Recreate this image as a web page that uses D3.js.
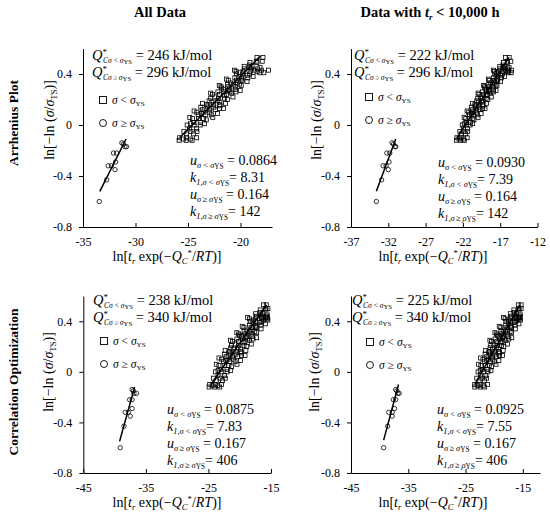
<!DOCTYPE html>
<meta charset="utf-8">
<style>
body { margin: 0; background: #fff; }
text { font-family: "Liberation Serif", "DejaVu Serif", serif; fill: #000; }
.tick text { font-family: "Liberation Serif", serif; font-size: 12px; }
.tick line, .domain { stroke: #000; stroke-width: 1; }
</style>
<body>
<script src="https://cdn.jsdelivr.net/npm/d3@7/dist/d3.min.js"></script>
<script>
// y = ln[-ln(sigma/sigma_TS)], same stress levels in every panel (sigma < sigma_YS)
var sqY = [-0.12,-0.12,-0.12,-0.11,-0.11,-0.10,-0.10,-0.10,-0.07,-0.07,-0.05,-0.05,-0.05,-0.03,-0.03,
    0,0,0,0.02,0.02,0.05,0.05,0.05,0.08,0.08,0.08,0.10,0.10,0.10,0.12,0.12,0.12,0.14,0.14,0.14,
    0.16,0.16,0.16,0.18,0.18,0.21,0.21,0.21,0.24,0.24,0.24,0.26,0.26,0.26,0.26,0.28,0.28,0.28,
    0.30,0.30,0.30,0.32,0.32,0.32,0.35,0.35,0.35,0.37,0.37,0.37,0.40,0.40,0.40,0.42,0.42,0.42,0.42,
    0.44,0.44,0.44,0.46,0.46,0.49,0.49,0.53,0.53,
    0.01,0.01,0.04,0.06,0.06,0.09,0.09,0.11,0.13,0.13,0.15,0.15,0.17,0.17,0.19,0.19,0.20,0.22,0.22,0.23,
    0.25,0.25,0.27,0.27,0.29,0.31,0.31,0.33,0.33,0.34,0.36,0.36,0.38,0.38,0.39,0.41,0.41,0.41,
    0.43,0.43,0.43,0.43,0.45,0.45,0.47,0.50,0.50];

// x = ln[tr exp(-Qc*/RT)] for each panel
var sqX_arrAll = [-25.85,-25.18,-24.61,-25.44,-24.78,-25.80,-25.13,-24.18,-25.15,-24.49,-25.39,-24.72,-24.15,-24.86,-24.20,
    -25.08,-24.41,-23.84,-24.46,-23.79,-24.57,-24.00,-23.52,-24.02,-23.35,-22.78,-24.16,-23.50,-22.92,-23.64,-22.97,-22.40,-23.78,-23.11,-22.54,
    -23.25,-22.58,-22.01,-22.73,-21.96,-22.84,-22.08,-21.51,-22.67,-22.01,-21.34,-22.15,-21.58,-21.00,-20.43,-21.62,-21.05,-20.48,
    -21.86,-21.19,-20.52,-21.24,-20.66,-20.09,-21.16,-20.40,-19.83,-20.54,-19.87,-19.30,-20.37,-19.80,-19.13,-20.42,-19.75,-19.08,-18.42,
    -19.61,-18.94,-18.37,-19.65,-18.89,-19.10,-18.43,-18.43,-17.86,
    -23.43,-24.77,-23.26,-24.83,-22.64,-22.19,-23.71,-24.42,-21.99,-21.61,-23.18,-21.94,-23.61,-21.42,-22.22,-22.99,-21.25,-22.44,-20.72,-21.55,
    -22.84,-20.84,-21.17,-20.03,-21.79,-19.93,-22.02,-20.35,-20.93,-19.38,-21.33,-19.90,-20.14,-18.80,-19.35,-20.06,-18.16,-17.78,
    -20.58,-18.68,-18.01,-17.34,-19.10,-18.15,-19.15,-18.50,-17.93];
var sqX_arr10k = [-22.86,-22.29,-21.81,-22.51,-21.94,-22.80,-22.24,-21.43,-22.23,-21.66,-22.41,-21.85,-21.36,-21.94,-21.37,
    -22.09,-21.53,-21.04,-21.55,-20.99,-21.62,-21.14,-20.74,-21.12,-20.56,-20.07,-21.23,-20.66,-20.18,-20.76,-20.20,-19.71,-20.87,-20.30,-19.82,
    -20.39,-19.83,-19.35,-19.93,-19.29,-20.01,-19.36,-18.88,-19.84,-19.27,-18.71,-19.36,-18.88,-18.40,-17.91,-18.90,-18.42,-17.93,
    -19.09,-18.52,-17.96,-18.54,-18.06,-17.58,-18.46,-17.81,-17.33,-17.90,-17.34,-16.85,-17.73,-17.25,-16.69,-17.76,-17.19,-16.63,-16.06,
    -17.05,-16.49,-16.00,-17.06,-16.42,-16.57,-16.01,-16.30,-15.80,
    -20.69,-21.82,-20.52,-21.83,-19.97,-19.56,-20.85,-21.44,-19.36,-19.04,-20.35,-19.30,-20.69,-18.83,-19.50,-20.14,-18.66,-19.65,-18.20,-18.90,
    -19.97,-18.27,-18.53,-17.56,-19.03,-17.44,-19.22,-17.79,-18.27,-16.95,-18.58,-17.37,-17.55,-16.42,-16.88,-17.46,-15.85,-15.53,
    -17.89,-16.27,-15.90,-15.50,-16.62,-15.81,-16.63,-16.06,-15.58];
var sqX_optAll = [-24.90,-24.00,-23.20,-24.40,-23.50,-24.80,-23.90,-22.90,-23.74,-22.74,-24.18,-23.17,-22.31,-23.46,-22.45,
    -23.89,-22.88,-22.02,-23.02,-22.02,-23.32,-22.46,-21.74,-22.60,-21.60,-20.74,-22.89,-21.88,-21.02,-22.17,-21.16,-20.30,-22.46,-21.46,-20.60,
    -21.74,-20.74,-19.88,-21.03,-19.88,-21.32,-20.17,-19.31,-21.17,-20.17,-19.17,-20.45,-19.59,-18.73,-17.87,-19.74,-18.88,-18.02,
    -20.17,-19.17,-18.16,-19.31,-18.45,-17.59,-19.32,-18.17,-17.31,-18.45,-17.45,-16.59,-18.31,-17.45,-16.45,-18.45,-17.45,-16.44,-15.60,
    -17.31,-16.31,-15.70,-17.45,-16.30,-16.73,-15.80,-16.20,-15.75,
    -21.45,-23.46,-21.31,-23.74,-20.44,-19.87,-22.17,-23.32,-19.73,-19.16,-21.60,-19.74,-22.32,-19.02,-20.31,-21.45,-18.88,-20.74,-18.15,-19.45,
    -21.47,-18.45,-19.02,-17.30,-20.02,-17.31,-20.46,-18.02,-18.88,-16.59,-19.60,-17.45,-17.88,-15.87,-16.73,-17.88,-16.20,-15.50,
    -18.74,-15.87,-15.60,-16.50,-16.60,-15.60,-16.74,-15.88,-15.50];
var sqX_opt10k = [-23.39,-22.46,-21.67,-22.87,-21.94,-23.40,-22.47,-21.15,-22.63,-21.71,-23.04,-22.12,-21.32,-22.40,-21.47,
    -22.81,-21.89,-21.09,-22.03,-21.11,-22.32,-21.53,-20.87,-21.68,-20.75,-19.96,-21.96,-21.03,-20.24,-21.31,-20.39,-19.59,-21.59,-20.66,-19.87,
    -20.94,-20.02,-19.22,-20.30,-19.24,-20.59,-19.53,-18.74,-20.47,-19.55,-18.62,-19.83,-19.03,-18.24,-17.44,-19.18,-18.39,-17.59,
    -19.59,-18.66,-17.74,-18.81,-18.02,-17.22,-18.84,-17.78,-16.99,-18.06,-17.13,-16.34,-17.94,-17.15,-16.22,-18.09,-17.16,-16.24,-15.60,
    -17.05,-16.12,-15.60,-17.19,-16.14,-16.56,-15.63,-15.79,-15.30,
    -20.57,-22.43,-20.46,-22.72,-19.68,-19.18,-21.29,-22.37,-19.07,-18.55,-20.81,-19.09,-21.49,-18.44,-19.65,-20.71,-18.33,-20.06,-17.68,-18.88,
    -20.75,-17.97,-18.52,-16.93,-19.46,-16.96,-19.87,-17.63,-18.43,-16.31,-19.11,-17.12,-17.53,-15.68,-16.49,-17.56,-16.00,-15.40,
    -18.37,-15.72,-15.50,-16.20,-16.40,-15.40,-16.54,-15.77,-15.30];

// sigma >= sigma_YS
var ciY = [-0.60,-0.43,-0.32,-0.32,-0.35,-0.29,-0.22,-0.22,-0.14,-0.17,-0.17,-0.15];
var ciX_arrAll = [-33.45,-32.75,-32.60,-32.30,-31.95,-31.90,-32.10,-31.80,-31.30,-31.00,-30.85,-31.15];
var ciX_arr10k = [-33.60,-32.90,-32.70,-32.30,-32.00,-31.90,-32.20,-31.80,-31.50,-31.10,-31.00,-31.30];
var ciX_optAll = [-39.10,-38.50,-38.30,-37.80,-37.50,-37.20,-37.60,-37.20,-37.20,-36.50,-36.90,-37.00];
var ciX_opt10k = [-39.30,-38.60,-38.40,-37.80,-37.80,-37.40,-37.60,-37.20,-37.20,-36.60,-36.80,-37.00];

// fitted lines, end points [x, y]
var fitSq = [[[-25.8,-0.10],[-18.1,0.54]], [[-22.8,-0.10],[-15.8,0.53]], [[-24.6,-0.10],[-15.7,0.53]], [[-23.4,-0.10],[-15.5,0.53]]];
var fitCi = [[[-33.4,-0.52],[-30.9,-0.11]], [[-33.6,-0.52],[-31.0,-0.11]], [[-39.2,-0.55],[-36.8,-0.12]], [[-39.3,-0.54],[-36.7,-0.10]]];

var xTicks = [[-35,-30,-25,-20], [-37,-32,-27,-22,-17,-12], [-45,-35,-25,-15], [-45,-35,-25,-15]];
var xDomains = [[-35,-17], [-37,-12], [-45,-15], [-45,-12]];
var yTicks = [-0.8,-0.4,0,0.4];

var qLow = ["246","222","238","225"];
var qHigh = ["296","296","340","340"];
var uLow = ["0.0864","0.0930","0.0875","0.0925"];
var kLow = ["8.31","7.39","7.83","7.55"];
var uHigh = ["0.164","0.164","0.167","0.167"];
var kHigh = ["142","142","406","406"];

// layout of the four panels (pixels)
var boxes = [
    {x0:83, x1:272, y0:227, y1:48.5, qx:92, qy:60, lx:103, ly:100, px:190, py:[165,182,199,216], xlx:167, xly:261, ylx:50, yly:120, hyS:"σ"},
    {x0:351, x1:537.5, y0:227, y1:48.5, qx:354, qy:60, lx:369, ly:97, px:438, py:[167,184,201,218], xlx:433, xly:261, ylx:317, yly:120, hyS:"ρ"},
    {x0:83.3, x1:271, y0:473, y1:296, qx:93, qy:305, lx:104, ly:341, px:167, py:[414,431,448,465], xlx:167, xly:507, ylx:49, yly:372, hyS:"σ"},
    {x0:351, x1:540, y0:473, y1:296, qx:352, qy:305, lx:370, ly:342, px:437, py:[414,431,448,465], xlx:433, xly:507, ylx:315, yly:372, hyS:"ρ"}
];
var sqXs = [sqX_arrAll, sqX_arr10k, sqX_optAll, sqX_opt10k];
var ciXs = [ciX_arrAll, ciX_arr10k, ciX_optAll, ciX_opt10k];

var svg = d3.select("body").append("svg").attr("width", 550).attr("height", 516);

// text with sub/superscripts: parts = [text, kind, dx]
function rich(sel, parts, f, s1, s2) {
    s1 = s1 || 0.62; s2 = s2 || 0.55;
    var t = sel.append("text").style("font-size", f + "px");
    var cur = 0;
    parts.forEach(function (p) {
        var k = p[1] || "n", off = 0, fs = f;
        if (k.indexOf("1") >= 0) { off = 0.2 * f; fs = s1 * f; }
        if (k.indexOf("2") >= 0) { off = 0.3 * f; fs = s2 * f; }
        if (k.indexOf("^") >= 0) { off = -0.36 * f; fs = 0.62 * f; }
        var s = t.append("tspan").text(p[0]).attr("dy", off - cur).style("font-size", fs + "px");
        if (k.indexOf("i") >= 0) s.style("font-style", "italic");
        if (p[2]) s.attr("dx", p[2]);
        cur = off;
    });
    return t;
}

var fmt = function (d) { return String(d); };

boxes.forEach(function (b, i) {
    var x = d3.scaleLinear().domain(xDomains[i]).range([b.x0, b.x1]);
    var y = d3.scaleLinear().domain([-0.8, 0.6]).range([b.y0, b.y1]);
    var g = svg.append("g");

    g.append("g").attr("transform", "translate(0," + b.y0 + ")")
        .call(d3.axisBottom(x).tickValues(xTicks[i]).tickSizeInner(-4).tickSizeOuter(0).tickPadding(10).tickFormat(fmt));
    g.append("g").attr("transform", "translate(" + b.x0 + ",0)")
        .call(d3.axisLeft(y).tickValues(yTicks).tickSizeInner(4).tickSizeOuter(0).tickPadding(7).tickFormat(fmt));

    var sq = sqY.map(function (v, j) { return [sqXs[i][j], v]; });
    var ci = ciY.map(function (v, j) { return [ciXs[i][j], v]; });

    g.selectAll("rect.pt").data(sq).enter().append("rect").attr("class", "pt")
        .attr("x", function (d) { return x(d[0]) - 2; })
        .attr("y", function (d) { return y(d[1]) - 2; })
        .attr("width", 4).attr("height", 4)
        .attr("fill", "none").attr("stroke", "#000").attr("stroke-width", 0.8);
    g.selectAll("circle.pt").data(ci).enter().append("circle").attr("class", "pt")
        .attr("cx", function (d) { return x(d[0]); })
        .attr("cy", function (d) { return y(d[1]); })
        .attr("r", 2.2)
        .attr("fill", "none").attr("stroke", "#000").attr("stroke-width", 0.8);

    var line = d3.line().x(function (d) { return x(d[0]); }).y(function (d) { return y(d[1]); });
    [fitSq[i], fitCi[i]].forEach(function (f) {
        g.append("path").attr("d", line(f)).attr("fill", "none").attr("stroke", "#000").attr("stroke-width", 1.5);
    });

    // activation energies
    rich(g, [["Q","i"],["*","^"],["Cσ\u2009<\u2009σ","1i",-4],["YS","2"],[" = " + qLow[i] + " kJ/mol"]], 14.5, 0.52, 0.46)
        .attr("x", b.qx).attr("y", b.qy);
    rich(g, [["Q","i"],["*","^"],["Cσ\u2009≥\u2009σ","1i",-4],["YS","2"],[" = " + qHigh[i] + " kJ/mol"]], 14.5, 0.52, 0.46)
        .attr("x", b.qx).attr("y", b.qy + 17);

    // legend
    g.append("rect").attr("x", b.lx - 3.5).attr("y", b.ly - 3.5).attr("width", 7).attr("height", 7)
        .attr("fill", "none").attr("stroke", "#000").attr("stroke-width", 0.9);
    g.append("circle").attr("cx", b.lx).attr("cy", b.ly + 23).attr("r", 3.5)
        .attr("fill", "none").attr("stroke", "#000").attr("stroke-width", 0.9);
    rich(g, [["σ","i"],[" < "],["σ","i"],["YS","1"]], 11.5).attr("x", b.lx + 9).attr("y", b.ly + 4);
    rich(g, [["σ","i"],[" ≥ "],["σ","i"],["YS","1"]], 11.5).attr("x", b.lx + 9).attr("y", b.ly + 27);

    // Weibull parameters
    rich(g, [["u","i"],["σ\u2009<\u2009σ","1i"],["YS","2"],[" = " + uLow[i]]], 14, 0.6, 0.52).attr("x", b.px).attr("y", b.py[0]);
    rich(g, [["k","i"],["1,σ\u2009<\u2009σ","1i"],["YS","2"],["= " + kLow[i]]], 14, 0.6, 0.52).attr("x", b.px).attr("y", b.py[1]);
    rich(g, [["u","i"],["σ\u2009≥\u2009σ","1i"],["YS","2"],[" = " + uHigh[i]]], 14, 0.6, 0.52).attr("x", b.px).attr("y", b.py[2]);
    rich(g, [["k","i"],["1,σ\u2009≥\u2009" + b.hyS,"1i"],["YS","2"],["= " + kHigh[i]]], 14, 0.6, 0.52).attr("x", b.px).attr("y", b.py[3]);

    // axis titles
    rich(g, [["ln["],["t","i"],["r","1i"],[" exp(−"],["Q","i"],["C","1i"],["*","^"],["/"],["RT","i"],[")]"]], 14)
        .attr("x", b.xlx).attr("y", b.xly).attr("text-anchor", "middle");
    rich(g.append("g").attr("transform", "translate(" + b.ylx + "," + b.yly + ") rotate(-90)"),
        [["ln[−ln ("],["σ","i"],["/"],["σ","i"],["TS","1"],[")]"]], 14)
        .attr("x", 0).attr("y", 4).attr("text-anchor", "middle");
});

// column and row headings
rich(svg, [["All Data"]], 14.5).attr("x", 160).attr("y", 17).attr("text-anchor", "middle").style("font-weight", "bold");
rich(svg, [["Data with "],["t","i"],["r","1i"],[" < 10,000 h"]], 14.5).attr("x", 430).attr("y", 17)
    .attr("text-anchor", "middle").style("font-weight", "bold");
rich(svg.append("g").attr("transform", "translate(14,123) rotate(-90)"), [["Arrhenius Plot"]], 13.5)
    .attr("text-anchor", "middle").attr("y", 4).style("font-weight", "bold");
rich(svg.append("g").attr("transform", "translate(14,382) rotate(-90)"), [["Correlation Optimization"]], 13.5)
    .attr("text-anchor", "middle").attr("y", 4).style("font-weight", "bold");
</script>
</body>
